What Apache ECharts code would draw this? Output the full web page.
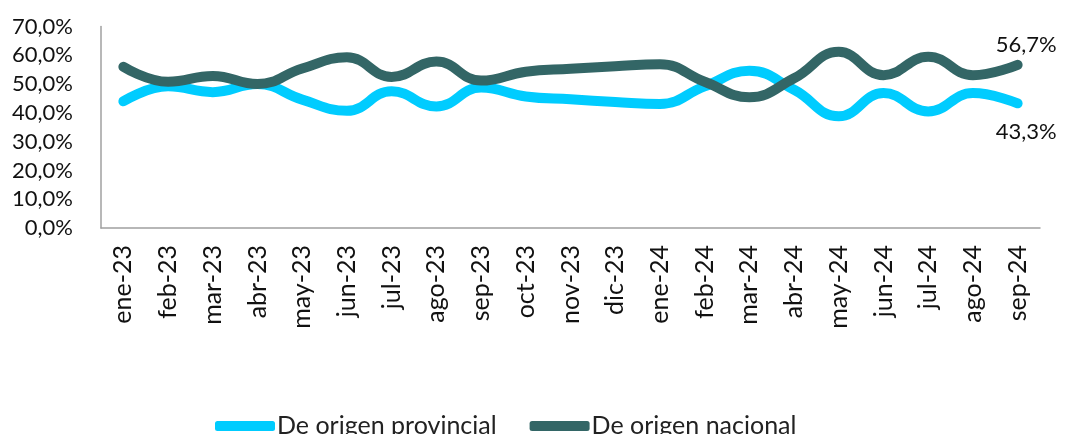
<!DOCTYPE html>
<html><head><meta charset="utf-8">
<script src="https://cdn.jsdelivr.net/npm/echarts@6/dist/echarts.min.js"></script>
<style>html,body{margin:0;padding:0;background:#fff}#c{width:1065px;height:434px}</style>
</head><body><div id="c"></div>
<script>
const categories = ["ene-23","feb-23","mar-23","abr-23","may-23","jun-23","jul-23","ago-23","sep-23","oct-23","nov-23","dic-23","ene-24","feb-24","mar-24","abr-24","may-24","jun-24","jul-24","ago-24","sep-24"];
const provincial = [44.0,49.2,47.2,50.0,44.6,40.7,47.5,42.2,48.8,45.7,44.7,43.8,43.1,49.2,54.6,48.0,38.8,46.9,40.5,46.9,43.3];
const nacional   = [56.0,50.8,52.8,50.0,55.4,59.3,52.5,57.8,51.2,54.3,55.3,56.2,56.9,50.8,45.4,52.0,61.2,53.1,59.5,53.1,56.7];
const yTicks = [0,10,20,30,40,50,60,70];
const names = ["De origen provincial","De origen nacional"];
const colors = ["#00CCFF","#336666"];
const fmt = v => v.toFixed(1).replace('.', ',') + '%';
const FONT = 'Lato';

const chart = echarts.init(document.getElementById('c'), null, {renderer: 'canvas'});
function endLbl(dy) {
  return { show: true, distance: 5, offset: [-27, dy], fontSize: 22, color: '#111', fontFamily: FONT,
           formatter: p => fmt(p.value) };
}
chart.setOption({
  animation: false,
  grid: { left: 101, right: 25, top: 26.5, bottom: 206, containLabel: false },
  legend: {
    top: 408, left: 210,
    itemWidth: 60, itemHeight: 10, itemGap: 33,
    icon: 'roundRect',
    textStyle: { fontSize: 25, lineHeight: 26, color: '#222', fontFamily: FONT, padding: [0,0,0,-3] },
    data: names
  },
  xAxis: {
    type: 'category', data: categories, boundaryGap: true,
    axisLine: { lineStyle: { color: '#A0A0A0', width: 1.5 } },
    axisTick: { show: false },
    axisLabel: { rotate: 90, fontSize: 25, color: '#111', fontFamily: FONT, margin: 17, interval: 0 }
  },
  yAxis: {
    type: 'value', min: yTicks[0], max: yTicks[yTicks.length-1], interval: 10,
    axisLine: { show: true, lineStyle: { color: '#A0A0A0', width: 1.5 } },
    axisTick: { show: false },
    splitLine: { show: false },
    axisLabel: { fontSize: 22, color: '#111', fontFamily: FONT, margin: 28, formatter: v => fmt(v) }
  },
  series: [
    { name: names[0], type: 'line', smooth: 0.45, symbol: 'none', data: provincial,
      endLabel: endLbl(29),
      lineStyle: { width: 10, color: colors[0], cap: 'round', join: 'round' }, itemStyle: { color: colors[0] } },
    { name: names[1], type: 'line', smooth: 0.45, symbol: 'none', data: nacional,
      endLabel: endLbl(-20),
      lineStyle: { width: 10, color: colors[1], cap: 'round', join: 'round' }, itemStyle: { color: colors[1] } }
  ]
});
</script></body></html>
